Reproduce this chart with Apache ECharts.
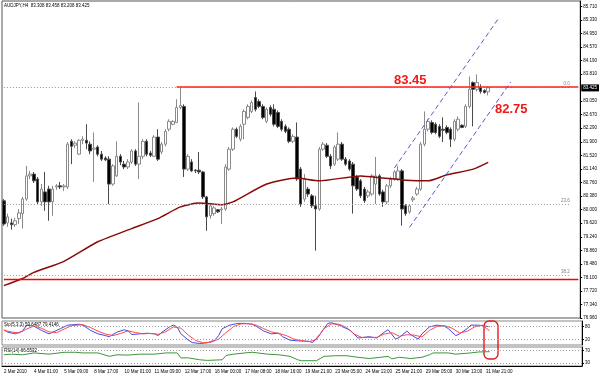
<!DOCTYPE html>
<html>
<head>
<meta charset="utf-8">
<script src="https://cdn.jsdelivr.net/npm/echarts@6/dist/echarts.min.js"></script>
<style>
html, body { margin: 0; padding: 0; background: #fff; }
#chart { width: 600px; height: 376px; }
</style>
</head>
<body>
<div id="chart"></div>
<script>
// H4 candles, [open, close, low, high]
const candles = [
  [80.25, 79.60, 79.55, 80.30], [79.63, 79.80, 79.52, 79.89], [79.63, 79.58, 79.44, 79.75], [79.58, 79.69, 79.52, 79.77],
  [79.75, 79.91, 79.60, 80.02], [79.89, 80.30, 79.47, 80.36], [80.30, 80.95, 80.25, 81.23], [80.95, 81.00, 80.86, 81.09],
  [81.00, 80.81, 80.75, 81.06], [80.86, 80.22, 80.16, 80.92], [80.22, 80.58, 80.11, 80.72], [80.50, 80.22, 79.97, 81.06],
  [80.58, 80.22, 79.69, 80.67], [80.22, 80.58, 79.83, 80.67], [80.64, 80.67, 80.56, 80.72], [80.67, 80.64, 80.58, 80.78],
  [80.64, 80.67, 80.53, 80.72], [80.64, 81.84, 80.58, 81.90], [81.92, 81.78, 81.28, 81.98], [81.81, 81.87, 81.73, 81.92],
  [81.56, 81.95, 81.53, 81.98], [81.95, 81.98, 81.84, 82.06], [81.95, 81.87, 81.70, 82.40], [81.84, 81.65, 81.56, 81.92],
  [81.70, 81.73, 80.78, 82.17], [81.76, 81.56, 81.50, 81.81], [81.56, 81.42, 81.37, 81.65], [81.45, 81.40, 81.37, 81.50],
  [81.42, 80.72, 80.16, 81.50], [80.72, 81.23, 80.67, 81.28], [80.95, 81.50, 80.92, 81.92], [81.50, 81.34, 81.25, 81.56],
  [81.28, 81.20, 81.14, 81.37], [81.20, 81.34, 81.14, 81.42], [81.34, 81.65, 81.28, 81.70], [81.65, 81.28, 81.23, 81.70],
  [81.28, 81.50, 80.86, 83.01], [81.50, 81.92, 81.42, 81.98], [81.92, 81.56, 81.50, 81.98], [81.59, 81.53, 81.48, 81.65],
  [81.50, 82.04, 81.48, 82.09], [82.04, 81.42, 81.37, 82.26], [81.62, 81.84, 81.56, 81.90], [81.84, 82.20, 81.78, 82.26],
  [82.26, 82.48, 82.20, 82.54], [82.40, 82.48, 82.37, 82.51], [82.45, 82.87, 82.43, 83.10], [82.87, 82.93, 82.82, 83.43],
  [82.90, 81.14, 80.92, 82.96], [81.14, 81.50, 81.09, 81.56], [81.34, 81.09, 81.06, 81.42], [81.11, 81.09, 81.03, 81.14],
  [81.11, 81.06, 81.00, 81.62], [81.06, 80.36, 80.30, 81.09], [80.36, 79.80, 79.41, 80.39], [79.83, 80.11, 79.75, 80.16],
  [79.89, 80.05, 79.83, 80.11], [80.00, 79.94, 79.91, 80.02], [80.00, 80.02, 79.60, 80.08], [80.02, 81.20, 79.97, 81.28],
  [81.14, 81.70, 81.09, 81.76], [81.70, 82.26, 81.65, 82.31], [82.26, 82.06, 82.01, 82.31], [81.98, 82.34, 81.92, 82.40],
  [82.40, 82.76, 81.98, 82.82], [82.59, 82.90, 82.54, 82.96], [82.76, 83.01, 82.71, 83.07], [83.15, 82.82, 82.76, 83.32],
  [83.04, 82.90, 82.85, 83.10], [82.90, 82.59, 82.54, 82.96], [82.48, 82.82, 82.43, 82.87], [82.87, 82.68, 82.62, 82.93],
  [82.82, 82.40, 82.34, 82.96], [82.73, 82.34, 82.29, 82.79], [82.48, 82.26, 82.20, 82.54], [82.34, 82.20, 82.15, 82.40],
  [82.26, 81.92, 81.87, 82.31], [81.92, 82.06, 81.87, 82.12], [82.04, 80.86, 80.81, 82.45], [81.14, 80.16, 80.08, 81.20],
  [80.30, 80.86, 80.22, 81.00], [80.58, 80.44, 80.36, 80.64], [80.39, 80.11, 80.05, 80.44], [80.11, 80.02, 78.85, 80.39],
  [80.02, 81.70, 79.97, 81.76], [81.70, 81.84, 81.65, 81.90], [81.81, 81.50, 81.45, 81.87], [81.50, 81.23, 81.14, 81.56],
  [81.28, 81.76, 81.23, 81.81], [81.42, 81.84, 81.37, 82.17], [81.84, 81.42, 81.37, 81.90], [81.42, 81.28, 81.23, 81.48],
  [81.37, 81.14, 81.09, 81.42], [81.28, 80.67, 79.89, 81.34], [80.92, 80.58, 80.53, 80.97], [80.81, 80.39, 80.33, 80.86],
  [80.58, 80.25, 80.19, 80.64], [80.39, 80.50, 80.33, 80.56], [80.44, 80.95, 80.39, 81.00], [80.72, 80.95, 80.16, 81.48],
  [80.95, 80.44, 80.39, 81.00], [80.50, 80.22, 80.08, 80.56], [80.22, 80.67, 80.16, 80.72], [80.67, 80.86, 80.61, 80.92],
  [80.86, 81.06, 80.81, 81.11], [80.86, 81.09, 80.81, 81.23], [81.09, 80.02, 79.55, 81.14], [80.11, 79.89, 79.83, 80.16],
  [79.94, 80.11, 79.89, 80.16], [80.28, 80.33, 80.22, 80.39], [80.44, 80.58, 80.39, 80.64], [80.58, 81.84, 80.53, 81.90],
  [81.84, 82.26, 81.78, 82.76], [82.26, 82.48, 82.20, 82.54], [82.45, 82.17, 82.12, 82.51], [82.40, 82.17, 82.12, 82.45],
  [82.34, 82.06, 82.01, 82.40], [82.26, 82.23, 81.90, 82.59], [82.31, 82.17, 82.12, 82.37], [82.26, 81.98, 81.76, 82.31],
  [81.98, 82.48, 81.92, 82.54], [82.26, 82.54, 82.20, 82.62], [82.37, 82.31, 82.29, 82.40], [82.34, 82.90, 82.29, 82.96],
  [82.90, 83.38, 82.85, 83.74], [83.57, 83.38, 82.34, 83.60], [83.38, 83.57, 83.32, 83.80], [83.43, 83.32, 83.26, 83.52],
  [83.35, 83.29, 83.26, 83.38], [83.31, 83.425, 83.21, 83.46]
];

// moving average, read at [bar, price]
const maPoints = [
  [0, 77.87], [5, 78.07], [8, 78.24], [16, 78.55], [25, 79.10], [34, 79.47], [41, 79.75], [47, 80.08],
  [52, 80.19], [58, 80.14], [61, 80.22], [70, 80.72], [78, 80.89], [84, 80.81], [95, 80.95], [101, 80.89],
  [107, 80.83], [113, 80.81], [118, 80.98], [125, 81.14], [129, 81.33]
];

// stochastic %K and %D, [bar, value]
const stochMain = [
  [0, 65], [1, 54], [3, 46], [5, 59], [6, 86], [8, 81], [10, 62], [12, 46], [13, 54], [15, 70], [17, 86],
  [20, 90], [21, 86], [23, 62], [25, 46], [27, 38], [28, 33], [30, 54], [32, 65], [33, 59], [34, 43], [36, 46],
  [38, 49], [40, 46], [41, 38], [42, 54], [44, 78], [45, 86], [46, 78], [47, 46], [49, 17], [50, 6], [52, 2],
  [54, 5], [56, 17], [57, 38], [58, 70], [60, 86], [62, 94], [64, 94], [66, 90], [67, 81], [69, 59], [71, 46],
  [73, 49], [74, 33], [76, 17], [78, 14], [81, 12], [82, 6], [84, 46], [86, 94], [87, 97], [89, 86], [92, 62],
  [94, 27], [97, 33], [99, 27], [101, 54], [102, 65], [104, 22], [105, 30], [107, 59], [108, 43], [110, 22],
  [111, 46], [113, 78], [115, 86], [117, 81], [118, 70], [120, 38], [121, 46], [123, 70], [124, 86], [126, 86],
  [128, 81], [129, 79]
];
const stochSignal = [
  [0, 62], [2, 55], [4, 50], [6, 68], [8, 82], [10, 72], [12, 55], [14, 52], [16, 68], [18, 84], [21, 88],
  [23, 75], [25, 58], [27, 45], [29, 38], [31, 48], [33, 60], [35, 52], [37, 46], [39, 48], [41, 44], [43, 56],
  [45, 78], [47, 72], [49, 40], [51, 15], [53, 5], [55, 8], [57, 22], [59, 52], [61, 80], [63, 92], [65, 93],
  [67, 86], [69, 70], [71, 55], [73, 48], [75, 38], [77, 22], [79, 15], [81, 10], [83, 20], [85, 70], [87, 92],
  [89, 90], [91, 75], [93, 45], [95, 30], [97, 30], [99, 30], [101, 45], [103, 52], [105, 35], [107, 42],
  [109, 40], [111, 32], [113, 62], [115, 80], [117, 84], [119, 72], [121, 50], [123, 58], [125, 78], [127, 86],
  [129, 60]
];

// RSI(14), [bar, value]
const rsiPoints = [
  [0, 56], [2, 58], [5, 56], [8, 62], [12, 58], [16, 64], [19, 64], [21, 62], [25, 62], [28, 51], [30, 56],
  [33, 55], [36, 58], [40, 58], [43, 62], [46, 62], [47, 46], [49, 46], [52, 40], [54, 38], [58, 40], [59, 54],
  [61, 58], [64, 62], [66, 64], [70, 58], [73, 56], [76, 51], [78, 40], [79, 37], [83, 37], [85, 51], [88, 53],
  [91, 53], [94, 48], [97, 44], [100, 48], [102, 51], [103, 43], [105, 48], [108, 44], [111, 48], [113, 56],
  [114, 62], [118, 62], [120, 58], [124, 62], [126, 65], [129, 66]
];

const xTickLabels = [
  '2 Mar 2010', '4 Mar 01:00', '5 Mar 09:00', '8 Mar 17:00', '10 Mar 01:00', '11 Mar 09:00',
  '12 Mar 17:00', '16 Mar 00:00', '17 Mar 08:00', '18 Mar 16:00', '19 Mar 21:00', '23 Mar 05:00',
  '24 Mar 13:00', '25 Mar 21:00', '29 Mar 05:00', '30 Mar 13:00', '31 Mar 21:00'
];
const priceTicks = [
  85.71, 85.33, 84.95, 84.57, 84.19, 83.81, 83.05, 82.67, 82.29, 81.90, 81.52, 81.14,
  80.76, 80.38, 80.00, 79.62, 79.24, 78.86, 78.48, 78.10, 77.72, 77.34, 76.96
];
const stochTicks = [100, 80, 20, 0];
const rsiTicks = [70, 30];

const fiboLevels = [[83.45, '0.0'], [80.16, '23.6'], [78.16, '38.2']];
const resistance = 83.45;
const support = 78.06;
const lastPrice = 83.425;
const channelUpper = [[104, 81.17], [132, 85.41]];
const channelLower = [[108, 79.50], [135, 83.59]];

const slotCount = 154;
const categories = Array.from({length: slotCount}, (_, i) => String(i));

const chart = echarts.init(document.getElementById('chart'));
const font = 'Liberation Sans, Arial, sans-serif';
const tiny = {fontSize: 4.5, fontFamily: font, color: '#000'};

const lineMarks = [];
fiboLevels.forEach(([lvl, name]) => {
    lineMarks.push([
        {coord: [0, lvl], lineStyle: {color: '#9a9a9a', type: [1, 2], width: 1},
            label: {show: true, position: 'insideEndTop', formatter: name, fontSize: 4.5, color: '#808080', distance: 1}},
        {coord: [151, lvl]}
    ]);
});
lineMarks.push([
    {coord: [46, resistance], lineStyle: {color: '#ff2020', width: 1.6, type: 'solid'}},
    {coord: [slotCount - 1, resistance]}
]);
lineMarks.push([
    {coord: [0, support], lineStyle: {color: '#ff0000', width: 1.3, type: 'solid', opacity: 1}, label: {show: false}},
    {coord: [slotCount - 1, support]}
]);
[channelUpper, channelLower].forEach(seg => {
    lineMarks.push([
        {coord: seg[0], lineStyle: {color: '#5a5ad2', width: 1, type: [5, 3]}, label: {show: false}},
        {coord: seg[1]}
    ]);
});
lineMarks.push({
    yAxis: lastPrice,
    lineStyle: {color: 'transparent'},
    label: {show: true, position: 'end', distance: 1, formatter: '83.425', backgroundColor: '#000',
        color: '#fff', fontSize: 4.5, fontFamily: font, padding: [1, 2]}
});

const levelLines = (vals) => ({
    silent: true,
    symbol: ['none', 'none'],
    label: {show: false},
    lineStyle: {color: '#a0a0a0', type: [1, 2], width: 1},
    data: vals.map(v => ({yAxis: v}))
});

const option = {
    animation: false,
    backgroundColor: '#fff',
    grid: [
        {left: 2, right: 18, top: 1, height: 317, show: true, borderColor: '#555', borderWidth: 1},
        {left: 2, right: 18, top: 321, height: 24, show: true, borderColor: '#888', borderWidth: 1},
        {left: 2, right: 18, top: 347, height: 19, show: true, borderColor: '#888', borderWidth: 1}
    ],
    xAxis: [
        {type: 'category', gridIndex: 0, data: categories, show: false},
        {type: 'category', gridIndex: 1, data: categories, show: false},
        {
            type: 'category', gridIndex: 2, data: categories,
            axisLine: {lineStyle: {color: '#000'}},
            axisTick: {interval: 7, length: 2, lineStyle: {color: '#000'}},
            axisLabel: {
                ...tiny, interval: 7, align: 'left', margin: 3,
                formatter: (v, idx) => xTickLabels[idx / 8] || ''
            }
        }
    ],
    yAxis: [
        {
            type: 'value', gridIndex: 0, position: 'right', min: 76.96, max: 85.86,
            splitLine: {show: false},
            axisLine: {show: true, lineStyle: {color: '#000'}},
            axisTick: {show: true, length: 2, customValues: priceTicks, lineStyle: {color: '#000'}},
            axisLabel: {...tiny, margin: 3, customValues: priceTicks, formatter: v => v.toFixed(3)}
        },
        {
            type: 'value', gridIndex: 1, position: 'right', min: -5, max: 105,
            splitLine: {show: false},
            axisLine: {show: true, lineStyle: {color: '#000'}},
            axisTick: {show: true, length: 2, customValues: stochTicks},
            axisLabel: {...tiny, margin: 3, customValues: stochTicks}
        },
        {
            type: 'value', gridIndex: 2, position: 'right', min: 20, max: 81,
            splitLine: {show: false},
            axisLine: {show: true, lineStyle: {color: '#000'}},
            axisTick: {show: true, length: 2, customValues: rsiTicks},
            axisLabel: {...tiny, margin: 3, customValues: rsiTicks}
        }
    ],
    series: [
        {
            type: 'candlestick', xAxisIndex: 0, yAxisIndex: 0,
            data: candles,
            barWidth: 3,
            itemStyle: {color: '#ffffff', color0: '#000000', borderColor: '#8a8a8a', borderColor0: '#4a4a4a', borderWidth: 1},
            markLine: {silent: true, symbol: ['none', 'none'], data: lineMarks}
        },
        {
            type: 'line', xAxisIndex: 0, yAxisIndex: 0, data: maPoints,
            symbol: 'none', smooth: 0.2, lineStyle: {color: '#8b0a0a', width: 1.5}
        },
        {
            type: 'line', xAxisIndex: 1, yAxisIndex: 1, data: stochMain,
            symbol: 'none', lineStyle: {color: '#4646e6', width: 1}
        },
        {
            type: 'line', xAxisIndex: 1, yAxisIndex: 1, data: stochSignal,
            symbol: 'none', lineStyle: {color: '#ff4a4a', width: 1},
            markLine: levelLines([80, 20])
        },
        {
            type: 'line', xAxisIndex: 2, yAxisIndex: 2, data: rsiPoints,
            symbol: 'none', lineStyle: {color: '#3c963c', width: 1},
            markLine: levelLines([70, 30])
        }
    ],
    graphic: [
        {type: 'text', left: 4, top: 3, style: {text: 'AUDJPY,H4  83.308 83.458 83.208 83.425', font: '4.5px ' + font, fill: '#000'}},
        {type: 'text', left: 4, top: 322, style: {text: 'Sto(5,3,3) 59.6487 79.4146', font: '4.5px ' + font, fill: '#000'}},
        {type: 'text', left: 4, top: 348, style: {text: 'RSI(14) 66.5532', font: '4.5px ' + font, fill: '#000'}},
        {type: 'text', left: 394, top: 74, style: {text: '83.45', font: 'bold 13px ' + font, fill: '#f01818'}},
        {type: 'text', left: 495, top: 103, style: {text: '82.75', font: 'bold 13px ' + font, fill: '#f01818'}},
        {type: 'rect', shape: {x: 484, y: 321, width: 14, height: 38, r: 5},
            style: {fill: 'none', stroke: '#e81c1c', lineWidth: 1.4}}
    ]
};

chart.setOption(option);
</script>
</body>
</html>
